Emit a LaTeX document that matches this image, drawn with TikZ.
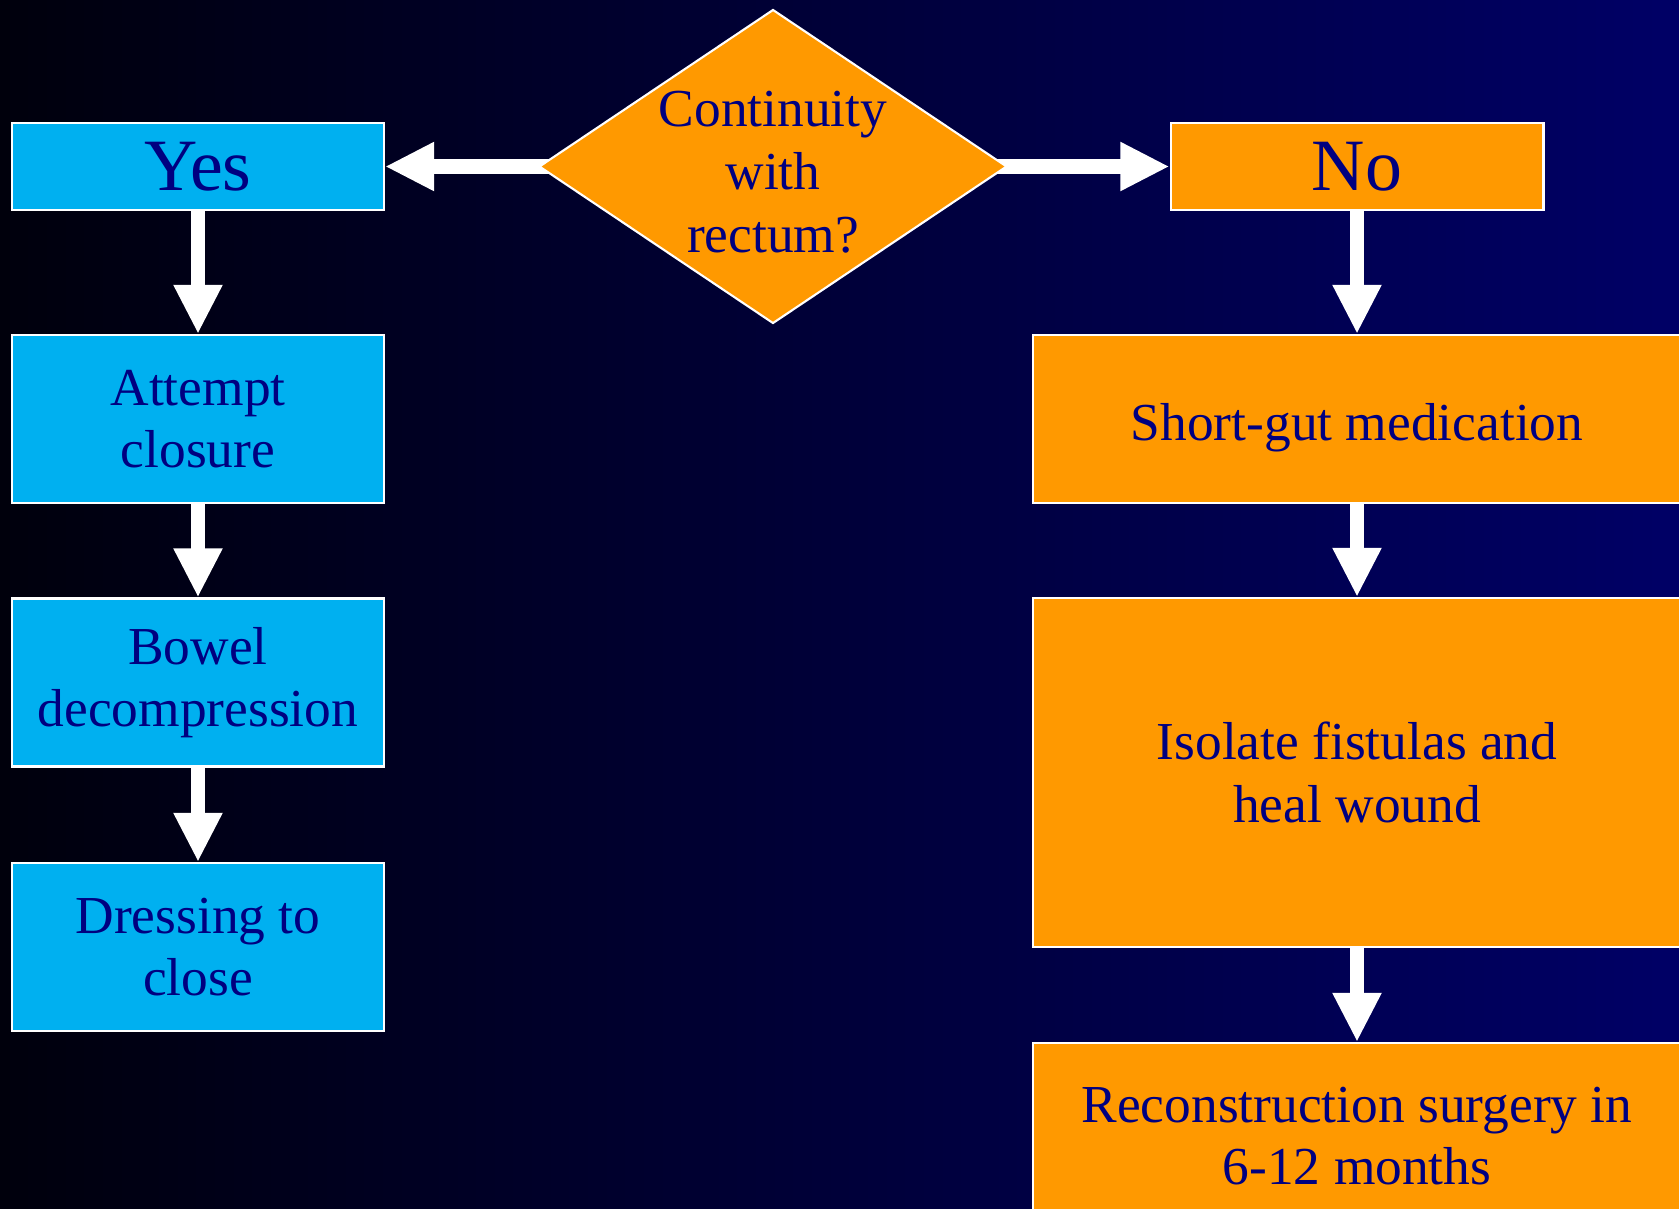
\documentclass[tikz,border=0pt]{standalone}
\usepackage{fontspec}
\setmainfont{Liberation Serif}
\usepackage{tikz}
\usetikzlibrary{arrows.meta,shapes.geometric}
\definecolor{slideleft}{RGB}{0,0,12}
\definecolor{slideright}{RGB}{0,0,102}
\definecolor{boxorange}{RGB}{255,153,0}
\definecolor{boxcyan}{RGB}{0,176,240}
\definecolor{inknavy}{RGB}{0,0,128}
\pgfdeclarelayer{bg}
\pgfdeclarelayer{links}
\pgfsetlayers{bg,links,main}
\tikzstyle{yesbox}=[rectangle,draw=white,line width=1.2pt,fill=boxcyan,text=inknavy,align=center,minimum width=7.44cm,inner sep=0pt,font=\fontsize{30.4}{35.7}\selectfont]
\tikzstyle{nobox}=[yesbox,fill=boxorange,minimum width=12.96cm]
\tikzstyle{answer}=[font=\fontsize{42}{50}\selectfont,minimum height=1.74cm]
\tikzstyle{decision}=[diamond,draw=white,line width=1.2pt,fill=boxorange,minimum width=9.36cm,minimum height=6.28cm,inner sep=0pt]
\tikzstyle{edge}=[draw=white,line width=8.5pt,-{Triangle[length=28pt,width=26pt]}]

\begin{document}
\begin{tikzpicture}[x=0.02cm,y=-0.02cm]
    \useasboundingbox (0,0) rectangle (1679,1208);
    \begin{pgfonlayer}{bg}
        \shade[left color=slideleft,right color=slideright] (0,0) rectangle (1679,1208);
    \end{pgfonlayer}
    \clip (0,0) rectangle (1679,1208);
    % question
    \node[decision] (rectum) at (773,166.5) {};
    \node[text=inknavy,align=center,font=\fontsize{30.4}{35.7}\selectfont] (question) at (773,172) {Continuity\\with\\rectum?};
    % yes branch
    \node[yesbox,answer] (yes) at (198,166.5) {Yes};
    \foreach \pos/\name/\txt in {{(198,419)/attempt/Attempt\\closure},{(198,682.5)/bowel/Bowel\\decompression},{(198,947)/dressing/Dressing to\\close}}
        \node[yesbox,minimum height=3.36cm] (\name) at \pos {\txt};
    % no branch
    \node[nobox,answer,minimum width=7.46cm] (no) at (1357,166.5) {No};
    \node[nobox,minimum height=3.36cm,text height=24pt,text depth=0pt] (shortgut) at (1357,419) {Short-gut medication};
    \node[nobox,minimum height=6.98cm] (isolate) at (1357,772.5) {Isolate fistulas and\\heal wound};
    \node[nobox,minimum height=3.72cm,anchor=north] (recon) at (1357,1042) {Reconstruction surgery in\\6-12 months};
    \begin{pgfonlayer}{links}
        \foreach \source/\dest in {rectum.center/yes.east,rectum.center/no.west,yes/attempt,attempt/bowel,bowel/dressing,no/shortgut,shortgut/isolate,isolate/recon}
            \path[edge] (\source) -- (\dest);
    \end{pgfonlayer}
\end{tikzpicture}
\end{document}
